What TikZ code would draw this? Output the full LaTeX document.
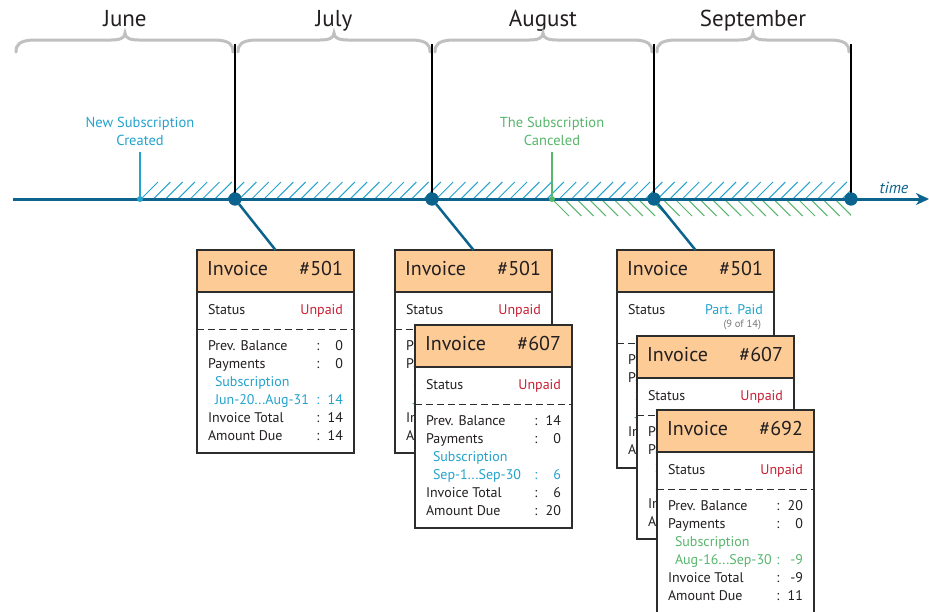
\documentclass[tikz,border=0pt]{standalone}
\usepackage{fontspec}
\setmainfont{PT Sans}
\usetikzlibrary{arrows.meta}
\definecolor{tlblue}{RGB}{12,100,142}
\definecolor{subcyan}{RGB}{36,163,205}
\definecolor{subgreen}{RGB}{88,182,108}
\definecolor{heador}{RGB}{252,203,150}
\definecolor{unpaidred}{RGB}{200,32,52}
\definecolor{framegr}{RGB}{45,45,45}
\definecolor{bracegr}{RGB}{192,192,192}
\definecolor{txtdark}{RGB}{35,31,32}
\definecolor{smallgr}{RGB}{120,120,120}

\tikzset{
  timeline/.style={draw=tlblue, line width=3pt, -{Stealth[length=13pt,width=12pt,inset=4pt]}},
  bigdot/.style={circle, fill=tlblue, minimum size=13pt, inner sep=0pt},
  smalldot/.style={circle, minimum size=6pt, inner sep=0pt},
  monthline/.style={draw=black, line width=2pt},
  bracestyle/.style={draw=bracegr, line width=3pt, line cap=round},
  monthtxt/.style={font=\fontsize{23}{26}\selectfont, text=txtdark, anchor=base},
  eventtxt/.style={font=\fontsize{14.5}{18}\selectfont, align=center},
  timetxt/.style={font=\fontsize{16}{18}\selectfont\itshape, text=tlblue},
  conn/.style={draw=tlblue, line width=2.5pt},
  hatchcyan/.style={draw=subcyan, line width=1pt},
  hatchgreen/.style={draw=subgreen, line width=1pt},
  invbox/.style={draw=framegr, fill=white, line width=1.3pt, minimum width=157pt, inner sep=0pt},
  invhead/.style={draw=framegr, fill=heador, line width=1.3pt, minimum width=157pt, minimum height=42pt, inner sep=0pt},
  headtxt/.style={font=\fontsize{20}{23}\selectfont, text=txtdark},
  rowtxt/.style={font=\fontsize{14}{16}\selectfont, text=txtdark},
  smalltxt/.style={font=\fontsize{10.5}{12}\selectfont, text=smallgr},
  dashline/.style={draw=framegr, line width=1pt, dash pattern=on 7pt off 4pt},
}

\newcommand\MonthBrace[3]{%
  \draw[bracestyle] (#1,52) .. controls (#1,44) and (#1+4,41) .. (#1+16,40)
    -- (#2-14,40) .. controls (#2-5,40) and (#2,38) .. (#2,33)
    .. controls (#2,38) and (#2+5,40) .. (#2+14,40)
    -- (#3-16,40) .. controls (#3-4,41) and (#3,44) .. (#3,52);}

\newcommand\InvFrame[3]{% name, number, height
  \node[invbox, minimum height=#3pt, anchor=north west] (#1) at (0,0) {};
  \node[invhead, anchor=north west] (#1-h) at (0,0) {};
  \node[headtxt, anchor=mid west] (#1-t) at (10,23) {Invoice};
  \node[headtxt, anchor=mid east] (#1-n) at (146,23) {\##2};
  \node[rowtxt, anchor=mid west] (#1-s) at (11,62) {Status};}

\newcommand\InvUnpaid[1]{%
  \node[rowtxt, text=unpaidred, anchor=mid east] (#1-st) at (146,62) {Unpaid};}

\newcommand\InvRows[9]{% name, dashed y, prev, pay, colour, range, subval, total, due
  \begin{scope}[shift={(0,#2)}]
    \coordinate (#1-dl) at (0,0);
    \coordinate (#1-dr) at (157,0);
    \draw[dashline] (#1-dl) -- (#1-dr);
    \node[rowtxt, anchor=mid west] (#1-l1) at (11,18.5) {Prev. Balance};
    \node[rowtxt, anchor=mid] (#1-c1) at (121,18.5) {:};
    \node[rowtxt, anchor=mid east] (#1-v1) at (146,18.5) {#3};
    \node[rowtxt, anchor=mid west] (#1-l2) at (11,36.5) {Payments};
    \node[rowtxt, anchor=mid] (#1-c2) at (121,36.5) {:};
    \node[rowtxt, anchor=mid east] (#1-v2) at (146,36.5) {#4};
    \node[rowtxt, text=#5, anchor=mid west] (#1-l3) at (18,54.5) {Subscription};
    \node[rowtxt, text=#5, anchor=mid west] (#1-l4) at (18,72.5) {#6};
    \node[rowtxt, text=#5, anchor=mid] (#1-c4) at (121,72.5) {:};
    \node[rowtxt, text=#5, anchor=mid east] (#1-v4) at (146,72.5) {#7};
    \node[rowtxt, anchor=mid west] (#1-l5) at (11,90.5) {Invoice Total};
    \node[rowtxt, anchor=mid] (#1-c5) at (121,90.5) {:};
    \node[rowtxt, anchor=mid east] (#1-v5) at (146,90.5) {#8};
    \node[rowtxt, anchor=mid west] (#1-l6) at (11,108.5) {Amount Due};
    \node[rowtxt, anchor=mid] (#1-c6) at (121,108.5) {:};
    \node[rowtxt, anchor=mid east] (#1-v6) at (146,108.5) {#9};
  \end{scope}}

\begin{document}
\begin{tikzpicture}[x=1pt, y=-1pt, every node/.style={inner sep=0pt, outer sep=0pt}]
\useasboundingbox (0,0) rectangle (929,611);
\fill[white] (0,0) rectangle (929,611);

% month labels and braces
\node[monthtxt] (mjun) at (125,26) {June};
\node[monthtxt] (mjul) at (334,26) {July};
\node[monthtxt] (maug) at (543,26) {August};
\node[monthtxt] (msep) at (753,26) {September};
\MonthBrace{16}{125}{233}
\MonthBrace{238}{334}{430}
\MonthBrace{435}{543}{652}
\MonthBrace{657}{753}{849}

% hatching
\begin{scope}
  \clip (141,180) rectangle (851,199);
  \foreach \i in {0,...,58} {
    \draw[hatchcyan] (141+\i*12.3,199) -- ++(17,-17);
  }
\end{scope}
\begin{scope}
  \clip (552,199) rectangle (851,217);
  \foreach \i in {0,...,25} {
    \draw[hatchgreen] (552+\i*12.3,199) -- ++(17,17);
  }
\end{scope}

% timeline
\coordinate (tl0) at (13,199);
\coordinate (tl1) at (929,199);
\draw[timeline] (tl0) -- (tl1);
\node[timetxt] (time) at (894,188) {time};

% month boundaries
\node[bigdot] (d1) at (235,199) {};
\node[bigdot] (d2) at (432,199) {};
\node[bigdot] (d3) at (654,199) {};
\node[bigdot] (d4) at (851,199) {};
\coordinate (t1) at (235,44);
\coordinate (t2) at (432,44);
\coordinate (t3) at (654,44);
\coordinate (t4) at (851,44);
\draw[monthline] (t1) -- (d1.center);
\draw[monthline] (t2) -- (d2.center);
\draw[monthline] (t3) -- (d3.center);
\draw[monthline] (t4) -- (d4.center);
\node[bigdot] at (d1.center) {};
\node[bigdot] at (d2.center) {};
\node[bigdot] at (d3.center) {};
\node[bigdot] at (d4.center) {};

% events
\node[eventtxt, text=subcyan] (ns) at (140,131) {New Subscription\\Created};
\node[smalldot, fill=subcyan] (nsd) at (140,199) {};
\coordinate (nst) at (140,152);
\draw[draw=subcyan, line width=2pt] (nst) -- (nsd);
\node[eventtxt, text=subgreen] (sc) at (552,131) {The Subscription\\Canceled};
\node[smalldot, fill=subgreen] (scd) at (552,199) {};
\coordinate (sct) at (552,152);
\draw[draw=subgreen, line width=2pt] (sct) -- (scd);

% group 1
\begin{scope}[shift={(197,250)}]
  \InvFrame{a1}{501}{203}
  \InvUnpaid{a1}
  \InvRows{a1}{79}{0}{0}{subcyan}{Jun-20...Aug-31}{14}{14}{14}
\end{scope}

% group 2
\begin{scope}[shift={(395,250)}]
  \InvFrame{b1}{501}{203}
  \InvUnpaid{b1}
  \InvRows{b1}{79}{0}{0}{subcyan}{Jun-20...Aug-31}{14}{14}{14}
\end{scope}
\begin{scope}[shift={(415,325)}]
  \InvFrame{b2}{607}{203}
  \InvUnpaid{b2}
  \InvRows{b2}{79}{14}{0}{subcyan}{Sep-1...Sep-30}{6}{6}{20}
\end{scope}

% group 3
\begin{scope}[shift={(617,250)}]
  \InvFrame{c1}{501}{218}
  \node[rowtxt, text=subcyan, anchor=mid east] (c1-st) at (146,62) {Part. Paid};
  \node[smalltxt, anchor=mid east] (c1-pp) at (144,75) {(9 of 14)};
  \InvRows{c1}{93}{0}{0}{subcyan}{Jun-20...Aug-31}{14}{14}{14}
\end{scope}
\begin{scope}[shift={(637,336)}]
  \InvFrame{c2}{607}{203}
  \InvUnpaid{c2}
  \InvRows{c2}{79}{14}{0}{subcyan}{Sep-1...Sep-30}{6}{6}{20}
\end{scope}
\begin{scope}[shift={(657,410)}]
  \InvFrame{c3}{692}{203}
  \InvUnpaid{c3}
  \InvRows{c3}{79}{20}{0}{subgreen}{Aug-16...Sep-30}{-9}{-9}{11}
\end{scope}

% connectors
\draw[conn] (d1) -- (a1.north);
\draw[conn] (d2) -- (b1.north);
\draw[conn] (d3) -- (c1.north);
\end{tikzpicture}
\end{document}
